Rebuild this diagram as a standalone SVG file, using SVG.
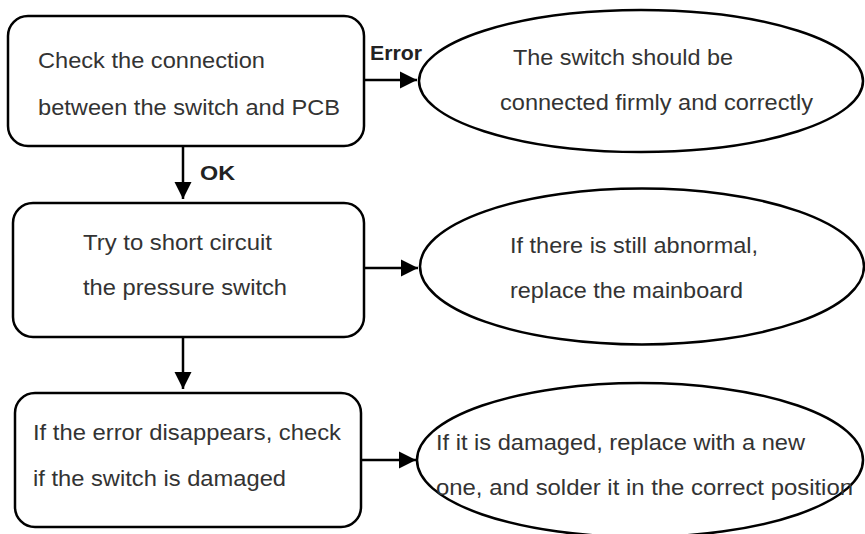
<svg xmlns="http://www.w3.org/2000/svg" width="865" height="534" viewBox="0 0 865 534">
<style>
.box{fill:#fff;stroke:#000;stroke-width:2.5}
.t{font-family:"Liberation Sans",Arial,sans-serif;font-size:22px;fill:#333}
.lb{font-family:"Liberation Sans",Arial,sans-serif;font-size:20px;font-weight:bold;fill:#222}
.ln{stroke:#000;stroke-width:2.5;fill:none}
</style>
<defs>
<marker id="ah" viewBox="0 0 10 10" refX="10" refY="5" markerWidth="7" markerHeight="7" markerUnits="strokeWidth" orient="auto">
<path d="M0,0 L10,5 L0,10 Z" fill="#000"/>
</marker>
</defs>
<rect width="865" height="534" fill="#fff"/>
<g id="connectors">
<line class="ln" x1="364" y1="80" x2="417" y2="80" marker-end="url(#ah)"/>
<line class="ln" x1="183" y1="146" x2="183" y2="199" marker-end="url(#ah)"/>
<line class="ln" x1="364" y1="268" x2="418" y2="268" marker-end="url(#ah)"/>
<line class="ln" x1="183" y1="337" x2="183" y2="389" marker-end="url(#ah)"/>
<line class="ln" x1="361" y1="460" x2="416" y2="460" marker-end="url(#ah)"/>
<text class="lb" x="370" y="60" textLength="52" lengthAdjust="spacingAndGlyphs">Error</text>
<text class="lb" x="200" y="180" textLength="35" lengthAdjust="spacingAndGlyphs">OK</text>
</g>
<g id="box1">
<rect class="box" x="8" y="16" width="356" height="130" rx="20"/>
<text class="t" x="38" y="68" textLength="227" lengthAdjust="spacingAndGlyphs">Check the connection</text>
<text class="t" x="38" y="115" textLength="302" lengthAdjust="spacingAndGlyphs">between the switch and PCB</text>
</g>
<g id="ellipse1">
<ellipse class="box" cx="641" cy="81" rx="222" ry="71"/>
<text class="t" x="513" y="65" textLength="220" lengthAdjust="spacingAndGlyphs">The switch should be</text>
<text class="t" x="500" y="110" textLength="313" lengthAdjust="spacingAndGlyphs">connected firmly and correctly</text>
</g>
<g id="box2">
<rect class="box" x="13" y="203" width="351" height="134" rx="20"/>
<text class="t" x="83" y="250" textLength="189" lengthAdjust="spacingAndGlyphs">Try to short circuit</text>
<text class="t" x="83" y="295" textLength="204" lengthAdjust="spacingAndGlyphs">the pressure switch</text>
</g>
<g id="ellipse2">
<ellipse class="box" cx="642" cy="266.5" rx="222" ry="78"/>
<text class="t" x="510" y="253" textLength="248" lengthAdjust="spacingAndGlyphs">If there is still abnormal,</text>
<text class="t" x="510" y="298" textLength="233" lengthAdjust="spacingAndGlyphs">replace the mainboard</text>
</g>
<g id="box3">
<rect class="box" x="15" y="393" width="346" height="134" rx="20"/>
<text class="t" x="33" y="440" textLength="308" lengthAdjust="spacingAndGlyphs">If the error disappears, check</text>
<text class="t" x="33" y="486" textLength="253" lengthAdjust="spacingAndGlyphs">if the switch is damaged</text>
</g>
<g id="ellipse3">
<ellipse class="box" cx="640" cy="460" rx="223" ry="77"/>
<text class="t" x="436" y="450" textLength="369" lengthAdjust="spacingAndGlyphs">If it is damaged, replace with a new</text>
<text class="t" x="436" y="495" textLength="417" lengthAdjust="spacingAndGlyphs">one, and solder it in the correct position</text>
</g>
</svg>
